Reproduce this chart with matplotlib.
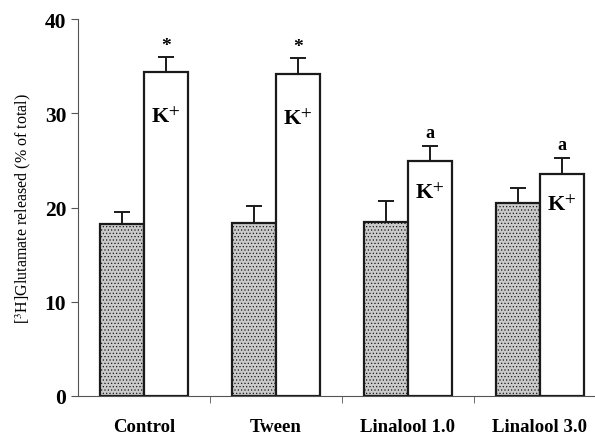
import matplotlib
matplotlib.use("Agg")
import matplotlib.pyplot as plt
import numpy as np

# [3H]glutamate release, basal vs K+-evoked (% of total)
categories = ["Control", "Tween", "Linalool 1.0", "Linalool 3.0"]
basal = [18.3, 18.4, 18.5, 20.5]
basal_err = [1.2, 1.8, 2.2, 1.6]
kplus = [34.4, 34.2, 24.9, 23.6]
kplus_err = [1.6, 1.7, 1.6, 1.6]
marks = ["*", "*", "a", "a"]

plt.rcParams["font.family"] = ["Liberation Serif", "DejaVu Serif"]
plt.rcParams["mathtext.fontset"] = "stix"
plt.rcParams["hatch.color"] = "#7a7a7a"
plt.rcParams["hatch.linewidth"] = 0.5

fig = plt.figure(figsize=(5.95, 4.39), dpi=100)
ax = fig.add_axes([78 / 595, 42 / 439, 528 / 595, 377 / 439])

x = np.arange(len(categories))
w = 0.335
ax.bar(x - w / 2, basal, w, color="#cacaca", hatch=".....", edgecolor="#1a1a1a",
       linewidth=1.6, zorder=2)
ax.bar(x + w / 2, kplus, w, color="white", edgecolor="#1a1a1a", linewidth=1.6, zorder=2)
ax.errorbar(x - w / 2, basal, yerr=[np.zeros(4), basal_err], fmt="none",
            ecolor="#1a1a1a", elinewidth=1.4, capsize=6, capthick=1.4, zorder=3)
ax.errorbar(x + w / 2, kplus, yerr=[np.zeros(4), kplus_err], fmt="none",
            ecolor="#1a1a1a", elinewidth=1.4, capsize=6, capthick=1.4, zorder=3)

# K+ label sits lower inside the tall bars
for xi, v, e, m in zip(x, kplus, kplus_err, marks):
    drop = 4.8 if v > 30 else 3.3
    ax.text(xi + w / 2, v - drop, r"K$^{+}$", ha="center", va="center",
            fontsize=16, fontweight="bold")
    ax.text(xi + w / 2, v + e + (0.3 if m == "*" else 0.6), m, ha="center",
            va="bottom", fontsize=14 if m == "*" else 13, fontweight="bold")

ax.set_xlim(-0.5, 3.5)
ax.set_ylim(0, 40)
ax.set_yticks([0, 10, 20, 30, 40])
ax.set_xticks(x)
ax.set_xticklabels(categories, fontweight="bold", fontsize=13.5)
ax.set_xticks([0.5, 1.5, 2.5], minor=True)
ax.tick_params(axis="x", which="major", length=0, pad=16)
ax.tick_params(axis="x", which="minor", length=5, color="#555555")
ax.tick_params(axis="y", labelsize=15.5, length=5, color="#555555")
for lbl in ax.get_yticklabels():
    lbl.set_fontweight("bold")
ax.set_ylabel(r"[$^3$H]Glutamate released (% of total)", fontsize=11.5, labelpad=8)

for s in ["top", "right"]:
    ax.spines[s].set_visible(False)
for s in ["left", "bottom"]:
    ax.spines[s].set_color("#555555")
    ax.spines[s].set_linewidth(0.8)

fig.savefig("out.png", dpi=100)
